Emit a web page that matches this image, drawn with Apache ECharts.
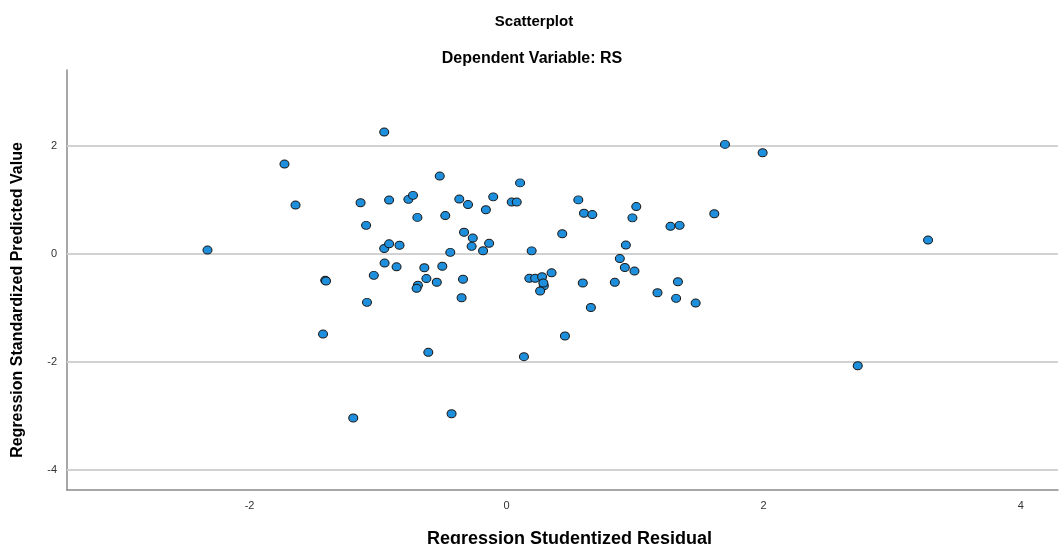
<!DOCTYPE html>
<html>
<head>
<meta charset="utf-8">
<script src="https://cdn.jsdelivr.net/npm/echarts@6/dist/echarts.min.js"></script>
<style>html,body{margin:0;padding:0;background:#fff}#c{width:1059px;height:544px}</style>
</head>
<body>
<div id="c"></div>
<script>
const titleText = "Scatterplot";
const subtitleText = "Dependent Variable: RS";
const xName = "Regression Studentized Residual";
const yName = "Regression Standardized Predicted Value";
const yTicks = [-4, -2, 0, 2];
const xTicks = [-2, 0, 2, 4];
const residuals = [
  -2.327, -1.728, -1.642, -1.411, -1.405, -1.428, -1.193, -1.136, -1.093, -1.086,
  -0.952, -0.914, -0.764, -0.728, -0.694, -0.520, -0.477, -0.368, -0.300, -0.331,
  -0.263, -0.272, -0.952, -0.914, -0.833, -0.438, -0.949, -0.856, -0.640, -0.500,
  -1.033, -0.624, -0.690, -0.700, -0.543, -0.339, -0.350, -0.609, -0.428, -0.104,
  -0.161, 0.105, 0.040, 0.079, -0.136, -0.183, 0.195, 0.433, 0.558, 0.602,
  0.667, 1.009, 0.979, 1.275, 1.346, 0.928, 0.881, 0.920, 0.995, 0.350,
  0.177, 0.222, 0.276, 0.290, 0.261, 0.593, 0.842, 0.656, 0.454, 1.174,
  1.319, 1.333, 1.471, 1.699, 1.992, 1.616, 3.279, 2.732, 0.135, 0.286
];
const predicted = [
  0.065, 1.657, 0.898, -0.496, -0.509, -1.491, -3.046, 0.941, 0.522, -0.904,
  2.250, 0.991, 1.004, 1.078, 0.670, 1.435, 0.704, 1.009, 0.907, 0.394,
  0.287, 0.133, 0.093, 0.180, 0.154, 0.022, -0.176, -0.246, -0.263, -0.235,
  -0.404, -0.463, -0.587, -0.644, -0.531, -0.476, -0.819, -1.830, -2.967, 1.050,
  0.811, 1.309, 0.954, 0.954, 0.189, 0.052, 0.050, 0.367, 0.994, 0.746,
  0.722, 0.870, 0.661, 0.504, 0.522, 0.157, -0.093, -0.259, -0.324, -0.357,
  -0.459, -0.459, -0.430, -0.596, -0.694, -0.546, -0.533, -1.000, -1.528, -0.726,
  -0.830, -0.522, -0.917, 2.022, 1.867, 0.737, 0.250, -2.078, -1.911, -0.546
];

const points = residuals.map((x, i) => [x, predicted[i]]);
const chart = echarts.init(document.getElementById('c'));
const font = '"Liberation Sans", Arial, sans-serif';
chart.setOption({
  animation: false,
  backgroundColor: '#fff',
  title: [
    {text: titleText, left: 529, top: 9, textAlign: 'center',
     textStyle: {fontFamily: font, fontSize: 15, fontWeight: 'bold', color: '#000'}},
    {text: subtitleText, left: 527, top: 46, textAlign: 'center',
     textStyle: {fontFamily: font, fontSize: 16, fontWeight: 'bold', color: '#000'}}
  ],
  grid: {left: 67, right: 1, top: 70, bottom: 54, outerBoundsMode: 'none', containLabel: false},
  xAxis: {
    type: 'value', min: -3.42, max: 4.29,
    name: xName, nameLocation: 'middle', nameGap: 40,
    nameTextStyle: {fontFamily: font, fontSize: 18, fontWeight: 'bold', color: '#000', padding: [0, 0, 0, 14]},
    axisLine: {show: true, onZero: false, lineStyle: {color: '#8a8a8a', width: 1.5}},
    axisTick: {show: false},
    splitLine: {show: false},
    axisLabel: {
      fontFamily: font, fontSize: 11, color: '#333', margin: 10,
      customValues: xTicks,
      formatter: v => String(v)
    }
  },
  yAxis: {
    type: 'value', min: -4.38, max: 3.40,
    name: yName, nameLocation: 'middle', nameGap: 41, nameRotate: 90,
    nameTextStyle: {fontFamily: font, fontSize: 16, fontWeight: 'bold', color: '#000', padding: [0, 40, 0, 0]},
    axisLine: {show: true, onZero: false, lineStyle: {color: '#8a8a8a', width: 1.5}},
    axisTick: {show: false},
    axisLabel: {
      fontFamily: font, fontSize: 11, color: '#333', margin: 10,
      customValues: yTicks,
      formatter: v => String(v)
    },
    splitLine: {show: false}
  },
  series: [
    {
      type: 'line', data: [], silent: true, z: 1,
      markLine: {
        silent: true, symbol: 'none', label: {show: false}, z: 1,
        lineStyle: {color: '#d2d2d2', width: 2, type: 'solid'},
        data: yTicks.map(v => ({yAxis: v}))
      }
    },
    {
      type: 'scatter',
      data: points,
      symbol: 'circle',
      symbolSize: [9, 8],
      itemStyle: {color: '#1e8fdc', borderColor: '#1a1a1a', borderWidth: 1, opacity: 1},
      z: 10
    }
  ]
});
</script>
</body>
</html>
